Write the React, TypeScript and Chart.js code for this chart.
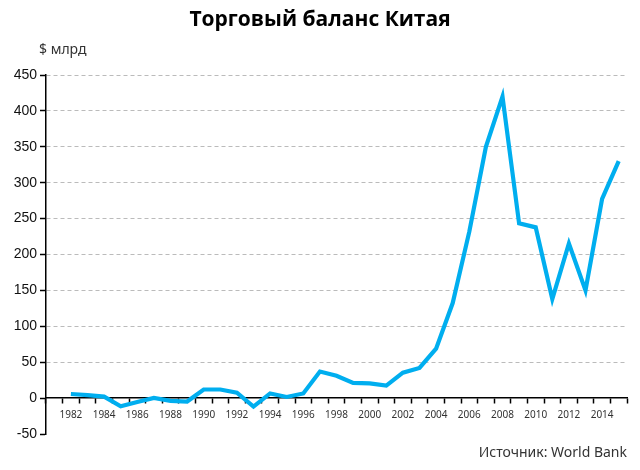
import React, { useEffect, useRef } from "react";
import { Chart, registerables } from "chart.js";

Chart.register(...registerables);

const TITLE = "Торговый баланс Китая";
const UNIT_LABEL = "$ млрд";
const SOURCE = "Источник: World Bank";

const years: string[] = [
  "1981", "1982", "1983", "1984", "1985", "1986", "1987", "1988", "1989", "1990",
  "1991", "1992", "1993", "1994", "1995", "1996", "1997", "1998", "1999", "2000",
  "2001", "2002", "2003", "2004", "2005", "2006", "2007", "2008", "2009", "2010",
  "2011", "2012", "2013", "2014", "2015",
];

const balance: (number | null)[] = [
  null, 5.7, 4.2, 2.0, -11.4, -5.5, 0.3, -3.8, -4.8, 12.0,
  12.0, 7.5, -11.9, 6.5, 1.6, 6.5, 37.0, 31.0, 21.1, 20.5,
  17.4, 35.4, 42.0, 68.9, 132.4, 231.8, 350.0, 420.0, 243.3, 237.8,
  138.0, 215.4, 150.0, 277.4, 330.0,
];

const yTicks: number[] = [-50, 0, 50, 100, 150, 200, 250, 300, 350, 400, 450];

const textPlugin = {
  id: "extraText",
  afterDraw(chart: any) {
    const ctx = chart.ctx;
    ctx.save();
    ctx.fillStyle = "#000";
    ctx.font = "bold 21px 'Open Sans', sans-serif";
    ctx.textAlign = "center";
    ctx.textBaseline = "middle";
    ctx.fillText(TITLE, 320, 20);
    ctx.fillStyle = "#333";
    ctx.font = "14px 'Noto Sans', sans-serif";
    ctx.textAlign = "left";
    ctx.fillText(UNIT_LABEL, 39, 50);
    ctx.textAlign = "right";
    ctx.fillText(SOURCE, 627, 453);
    ctx.restore();
  },
};

export default function App() {
  const canvasRef = useRef<HTMLCanvasElement | null>(null);

  useEffect(() => {
    document.body.style.margin = "0";
    const canvas = canvasRef.current;
    if (!canvas) return;
    const chart = new Chart(canvas, {
      type: "line",
      data: {
        labels: years,
        datasets: [
          {
            data: balance,
            borderColor: "#00aeef",
            borderWidth: 4.2,
            pointRadius: 0,
            tension: 0,
            fill: false,
            spanGaps: false,
            borderJoinStyle: "miter",
          },
        ],
      },
      options: {
        animation: false,
        responsive: false,
        maintainAspectRatio: false,
        layout: { padding: { left: 8, right: 13, top: 75, bottom: 36 } },
        plugins: {
          legend: { display: false },
          title: { display: false },
          tooltip: { enabled: false },
        },
        scales: {
          x: {
            type: "category",
            position: { y: 0 } as any,
            offset: true,
            grid: {
              offset: true,
              drawOnChartArea: false,
              drawTicks: true,
              tickLength: 5,
              tickColor: "#000",
              tickWidth: 1.5,
            },
            border: { display: true, color: "#000", width: 1.5 },
            ticks: {
              autoSkip: false,
              maxRotation: 0,
              minRotation: 0,
              padding: 6,
              color: "#333",
              font: { family: "'Noto Sans', sans-serif", size: 10 },
              callback: (_v: any, i: number) => {
                const y = parseInt(years[i], 10);
                return y % 2 === 0 ? years[i] : "";
              },
            },
          },
          y: {
            type: "linear",
            min: -50,
            max: 450,
            afterFit: (scale: any) => {
              scale.width = 38;
            },
            afterBuildTicks: (scale: any) => {
              scale.ticks = yTicks.map((v) => ({ value: v }));
            },
            grid: {
              color: (c: any) => (c.tick && c.tick.value > 0 ? "#bbbbbb" : "rgba(0,0,0,0)"),
              lineWidth: 1,
              drawTicks: true,
              tickLength: 6,
              tickColor: "#000",
              tickWidth: 1.5,
            },
            border: { display: true, color: "#000", width: 1.5, dash: [4, 3] },
            ticks: {
              padding: 3,
              color: "#111",
              font: { family: "'Liberation Sans', Arial, sans-serif", size: 14 },
            },
          },
        },
      },
      plugins: [textPlugin],
    });
    return () => chart.destroy();
  }, []);

  return (
    <div style={{ width: 640, height: 470, position: "relative" }}>
      <canvas ref={canvasRef} width={640} height={470} style={{ display: "block" }} />
    </div>
  );
}
